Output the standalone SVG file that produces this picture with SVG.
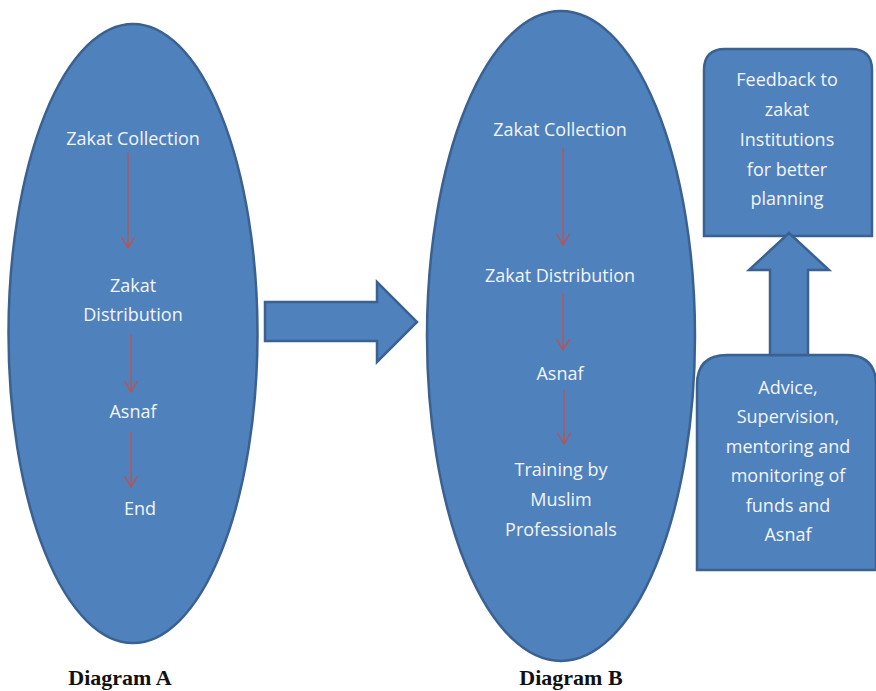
<svg xmlns="http://www.w3.org/2000/svg" width="876" height="691" viewBox="0 0 876 691">
<defs>
<style>
.shape{fill:#4F81BD;stroke:#3A6190;stroke-width:2.5}
.t{font-family:"Open Sans","Noto Sans",sans-serif;font-size:18px;fill:#F2F5FA;text-anchor:middle}
.cap{font-family:"Liberation Serif",serif;font-weight:bold;font-size:22px;fill:#111;text-anchor:middle}
.red{stroke:#C0504D;stroke-width:1.3;fill:none}
</style>
<marker id="ah" viewBox="0 0 12 14" refX="11.5" refY="7" markerWidth="12" markerHeight="14" markerUnits="userSpaceOnUse" orient="auto">
<path d="M0.5,0.5 L11.5,7 L0.5,13.5" fill="none" stroke="#C0504D" stroke-width="1.3"/>
</marker>
</defs>
<rect width="876" height="691" fill="#fff"/>
<g id="diagramA">
<ellipse class="shape" cx="133" cy="333.5" rx="124.5" ry="309.5"/>
<text class="t" x="133" y="145">Zakat Collection</text>
<text class="t" x="133" y="292">Zakat</text>
<text class="t" x="133" y="321">Distribution</text>
<text class="t" x="133" y="418">Asnaf</text>
<text class="t" x="140" y="515">End</text>
</g>
<g id="diagramB">
<ellipse class="shape" cx="561" cy="336" rx="134" ry="325"/>
<text class="t" x="560" y="136">Zakat Collection</text>
<text class="t" x="560" y="282">Zakat Distribution</text>
<text class="t" x="560" y="380">Asnaf</text>
<text class="t" x="561" y="476">Training by</text>
<text class="t" x="561" y="506">Muslim</text>
<text class="t" x="561" y="536">Professionals</text>
</g>
<g id="feedback">
<path class="shape" d="M704,236 L704,70 Q704,49 725,49 L851,49 Q872,49 872,70 L872,236 Z"/>
<text class="t" x="787" y="86">Feedback to</text>
<text class="t" x="787" y="116">zakat</text>
<text class="t" x="787" y="146">Institutions</text>
<text class="t" x="787" y="176">for better</text>
<text class="t" x="787" y="205">planning</text>
</g>
<g id="advice">
<path class="shape" d="M697,570 L697,385 Q697,355 727,355 L846,355 Q876,355 876,385 L876,570 Z"/>
<text class="t" x="788" y="394">Advice,</text>
<text class="t" x="788" y="423">Supervision,</text>
<text class="t" x="788" y="453">mentoring and</text>
<text class="t" x="788" y="482">monitoring of</text>
<text class="t" x="788" y="512">funds and</text>
<text class="t" x="788" y="541">Asnaf</text>
</g>
<g id="connectors">
<path class="shape" d="M265,302 L377,302 L377,282 L417,322 L377,362 L377,341 L265,341 Z"/>
<path class="shape" d="M770,355 L770,270 L749,270 L789,233 L829,270 L808,270 L808,355 Z"/>
<line class="red" x1="128" y1="153" x2="128" y2="248" marker-end="url(#ah)"/>
<line class="red" x1="131" y1="335" x2="131" y2="392" marker-end="url(#ah)"/>
<line class="red" x1="131" y1="432" x2="131" y2="487" marker-end="url(#ah)"/>
<line class="red" x1="563" y1="148" x2="563" y2="245" marker-end="url(#ah)"/>
<line class="red" x1="563" y1="293" x2="563" y2="350" marker-end="url(#ah)"/>
<line class="red" x1="564" y1="390" x2="564" y2="444" marker-end="url(#ah)"/>
</g>
<text class="cap" x="120" y="685">Diagram A</text>
<text class="cap" x="571" y="685">Diagram B</text>
</svg>
